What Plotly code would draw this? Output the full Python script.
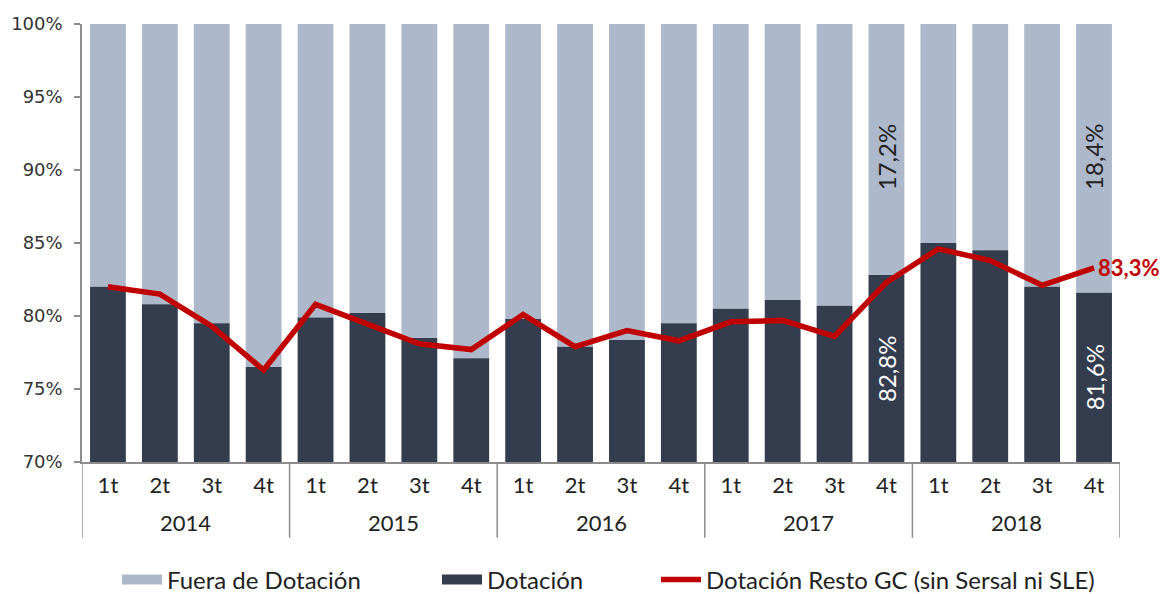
import plotly.graph_objects as go

years = ["2014"] * 4 + ["2015"] * 4 + ["2016"] * 4 + ["2017"] * 4 + ["2018"] * 4
quarters = ["1t", "2t", "3t", "4t"] * 5

dotacion = [82.0, 80.8, 79.5, 76.5, 79.9, 80.2, 78.5, 77.1, 79.8, 77.9,
            78.35, 79.5, 80.5, 81.1, 80.7, 82.8, 85.0, 84.5, 82.0, 81.6]
fuera = [round(100 - v, 2) for v in dotacion]
resto_gc = [82.0, 81.5, 79.3, 76.3, 80.8, 79.5, 78.1, 77.7, 80.1, 77.9,
            79.0, 78.3, 79.6, 79.7, 78.6, 82.3, 84.6, 83.8, 82.1, 83.3]

# labelled bars: index, fuera label, dotacion label
label_idx = [15, 19]
fuera_labels = ["17,2%", "18,4%"]
dot_labels = ["82,8%", "81,6%"]
line_label = "83,3%"

LIGHT = "#adb8ca"
DARK = "#333d4e"
RED = "#c00000"
AXIS = "#8c8c8c"
TXT = "#222222"

W, H = 1161, 586  # page body has an 8px margin
Y0 = 70

x_ids = [f"{y} {q}" for y, q in zip(years, quarters)]
n = len(x_ids)

fig = go.Figure()
fig.add_trace(go.Bar(x=x_ids, y=fuera, base=dotacion, name="Fuera de Dotación",
                     marker_color=LIGHT, marker_line_width=0, showlegend=False))
fig.add_trace(go.Bar(x=x_ids, y=dotacion, name="Dotación", marker_color=DARK,
                     marker_line_width=0, showlegend=False))
fig.add_trace(go.Scatter(x=x_ids, y=resto_gc, name="Dotación Resto GC (sin Sersal ni SLE)",
                         mode="lines", line=dict(color=RED, width=5.5), legend="legend3"))
# legend-only swatches for the bar series (wide rectangles as in the original)
fig.add_trace(go.Scatter(x=[None], y=[None], mode="lines", name="Fuera de Dotación",
                         line=dict(color=LIGHT, width=12), legend="legend",
                         hoverinfo="skip"))
fig.add_trace(go.Scatter(x=[None], y=[None], mode="lines", name="Dotación",
                         line=dict(color=DARK, width=12), legend="legend2",
                         hoverinfo="skip"))

annotations = []
for k, i in enumerate(label_idx):
    annotations.append(dict(xref="x", yref="y", x=i, y=90.9,
                            text=fuera_labels[k], textangle=-90, showarrow=False,
                            font=dict(family="Lato", size=24, color=TXT)))
    annotations.append(dict(xref="x", yref="y", x=i, y=(Y0 + dotacion[i]) / 2,
                            text=dot_labels[k], textangle=-90, showarrow=False,
                            font=dict(family="Lato", size=24, color="white")))
annotations.append(dict(xref="x", yref="y", x=n - 1, y=resto_gc[-1],
                        text="<b>" + line_label + "</b>", showarrow=False,
                        xanchor="left", xshift=2,
                        font=dict(family="Lato", size=22, color=RED)))

# year group labels and dividers
shapes = []
groups = []
for i, yv in enumerate(years):
    if not groups or groups[-1][0] != yv:
        groups.append([yv, i, i])
    else:
        groups[-1][2] = i
for yv, i0, i1 in groups:
    annotations.append(dict(xref="x", yref="paper", x=(i0 + i1) / 2, y=-0.139,
                            yanchor="middle", text=yv, showarrow=False,
                            font=dict(family="Lato", size=22, color=TXT)))
    shapes.append(dict(type="line", xref="x", yref="paper", x0=i0 - 0.5, x1=i0 - 0.5,
                       y0=0, y1=-0.173, line=dict(color=AXIS, width=1.5)))
shapes.append(dict(type="line", xref="x", yref="paper", x0=n - 0.5, x1=n - 0.5,
                   y0=0, y1=-0.173, line=dict(color=AXIS, width=1.5)))

leg_font = dict(family="Lato", size=24, color=TXT)
leg_common = dict(orientation="h", xref="container", yref="container", y=1 - 572 / H,
                  yanchor="middle", xanchor="left", font=leg_font, itemwidth=40,
                  bgcolor="rgba(0,0,0,0)")

fig.update_layout(
    barmode="overlay",
    bargap=0.31,
    width=W, height=H,
    margin=dict(l=74, r=49, t=16, b=132),
    plot_bgcolor="white", paper_bgcolor="white",
    showlegend=True,
    legend=dict(x=109 / W, **leg_common),
    legend2=dict(x=429 / W, **leg_common),
    legend3=dict(x=648 / W, **leg_common),
    annotations=annotations,
    shapes=shapes,
    font=dict(family="Lato", color=TXT),
)
fig.update_yaxes(range=[Y0, 100], dtick=5, ticksuffix="%", showgrid=False,
                 showline=True, linecolor=AXIS, linewidth=1.5, automargin=False,
                 ticks="outside", ticklen=6, tickcolor=AXIS, tickwidth=1.5,
                 ticklabelstandoff=8,
                 tickfont=dict(family="DejaVu Sans", size=18, color="#333333"))
fig.update_xaxes(type="category", showgrid=False, showline=True, automargin=False,
                 linecolor=AXIS, linewidth=1.5, range=[-0.5, n - 0.5],
                 tickvals=x_ids, ticktext=quarters,
                 ticks="outside", ticklen=3, tickcolor="rgba(0,0,0,0)",
                 tickfont=dict(family="Lato", size=22, color=TXT))

fig.write_html("out.html")
